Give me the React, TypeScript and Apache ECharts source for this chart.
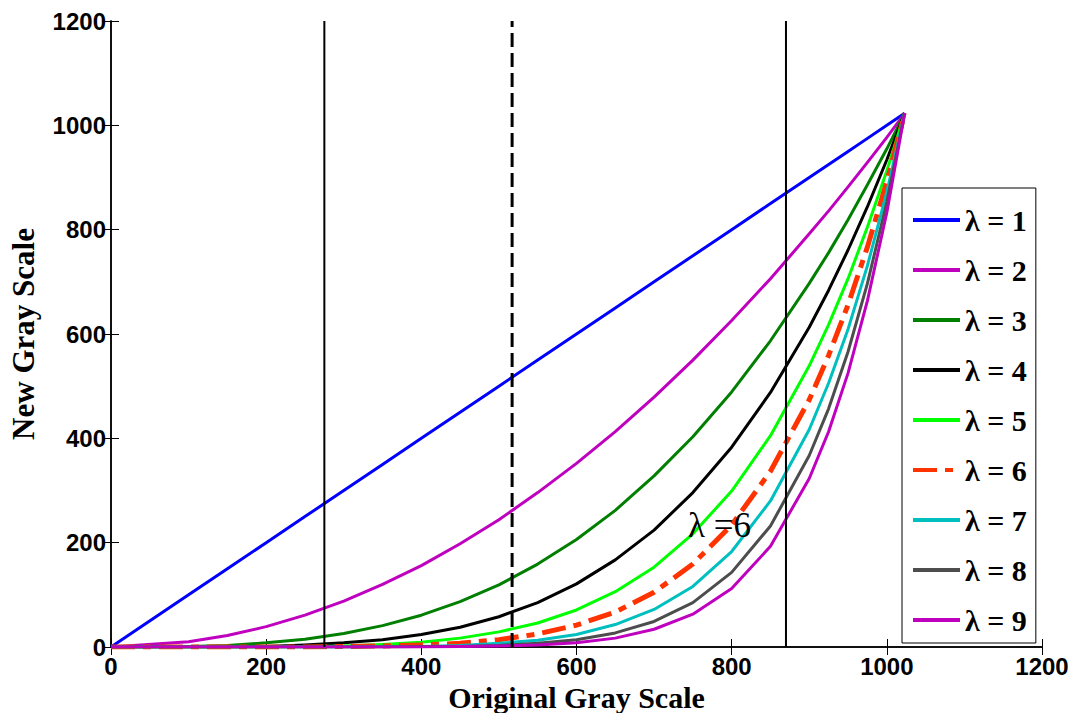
import React, { useEffect, useRef } from "react";
import * as echarts from "echarts";

const xs = [0, 100, 150, 200, 250, 300, 350, 400, 450, 500, 550, 600, 650, 700, 750, 800, 850, 900, 925, 950, 975, 1000, 1023];
const lambda1 = [0, 100, 150, 200, 250, 300, 350, 400, 450, 500, 550, 600, 650, 700, 750, 800, 850, 900, 925, 950, 975, 1000, 1023];
const lambda2 = [0, 10, 22, 39, 61, 88, 120, 156, 198, 244, 296, 352, 413, 479, 550, 626, 706, 792, 836, 882, 929, 977, 1023];
const lambda3 = [0, 1, 3, 8, 15, 26, 41, 61, 87, 119, 159, 206, 262, 328, 403, 489, 587, 697, 756, 819, 886, 955, 1023];
const lambda4 = [0, 0, 0, 1, 4, 8, 14, 24, 38, 58, 85, 121, 167, 224, 296, 383, 488, 613, 684, 761, 844, 934, 1023];
const lambda5 = [0, 0, 0, 0, 1, 2, 5, 9, 17, 29, 46, 71, 106, 153, 217, 299, 405, 539, 618, 706, 805, 913, 1023];
const lambda6 = [0, 0, 0, 0, 0, 1, 2, 4, 7, 14, 25, 42, 67, 105, 159, 234, 337, 474, 559, 656, 767, 892, 1023];
const lambda7 = [0, 0, 0, 0, 0, 0, 1, 1, 3, 7, 13, 24, 43, 72, 116, 183, 280, 417, 506, 609, 731, 872, 1023];
const lambda8 = [0, 0, 0, 0, 0, 0, 0, 1, 1, 3, 7, 14, 27, 49, 85, 143, 232, 367, 457, 566, 697, 853, 1023];
const lambda9 = [0, 0, 0, 0, 0, 0, 0, 0, 1, 2, 4, 8, 17, 34, 63, 112, 193, 323, 413, 525, 664, 833, 1023];

const seriesNames = ["λ = 1", "λ = 2", "λ = 3", "λ = 4", "λ = 5", "λ = 6", "λ = 7", "λ = 8", "λ = 9"];
const seriesValues = [lambda1, lambda2, lambda3, lambda4, lambda5, lambda6, lambda7, lambda8, lambda9];
const seriesColors = ["#0000FF", "#BF00BF", "#007F00", "#000000", "#00FF00", "#FF3300", "#00BFBF", "#4D4D4D", "#BF00BF"];

const verticalLinesX = [275, 517, 870];
const verticalLineDashed = [false, true, false];

const axisTicks = [0, 200, 400, 600, 800, 1000, 1200];
const annotationText = "λ =6";

export default function App() {
  const ref = useRef<HTMLDivElement>(null);
  useEffect(() => {
    document.body.style.margin = "0";
    const chart = echarts.init(ref.current!, null, { renderer: "svg" });
    const tickFont = { fontFamily: "Liberation Sans", fontWeight: "bold" as const, fontSize: 24, color: "#000" };
    const fmt = (v: number) => (axisTicks.includes(v) ? String(v) : "");
    const curves = seriesNames.map((name, i) => ({
      name,
      type: "line",
      data: xs.map((x, j) => [x, seriesValues[i][j]]),
      symbol: "none",
      lineStyle: {
        color: seriesColors[i],
        width: i === 5 ? 5 : 3,
        type: i === 5 ? [24, 8, 8, 8] : "solid",
        join: "round",
      },
      itemStyle: { color: seriesColors[i] },
      z: 2,
    }));
    const vlines = verticalLinesX.map((x, i) => ({
      name: "v" + i,
      type: "line",
      data: [[x, 0], [x, 1200]],
      symbol: "none",
      silent: true,
      lineStyle: { color: "#000", width: verticalLineDashed[i] ? 3 : 2, type: verticalLineDashed[i] ? [14, 6] : "solid" },
      z: 3,
    }));
    const baseAxis = {
      type: "value",
      min: 0,
      max: 1200,
      interval: 200,
      splitLine: { show: false },
      axisLine: { show: true, lineStyle: { color: "#000", width: 1.5 } },
      axisTick: { show: true, inside: true, length: 8, lineStyle: { color: "#000", width: 1 } },
    };
    const titleFont = { fontFamily: "Liberation Serif", fontWeight: "bold", fontSize: 30, lineHeight: 30, color: "#000" };
    chart.setOption({
      animation: false,
      backgroundColor: "#fff",
      grid: { left: 111, right: 32, top: 21, bottom: 66, containLabel: false, outerBoundsMode: "none" },
      xAxis: [
        {
          ...baseAxis,
          position: "bottom",
          axisLabel: { ...tickFont, margin: 7, formatter: fmt },
          name: "Original Gray Scale",
          nameLocation: "middle",
          nameGap: 31,
          nameTextStyle: titleFont,
        },
        { ...baseAxis, position: "top", axisLabel: { show: false } },
      ],
      yAxis: [
        {
          ...baseAxis,
          position: "left",
          axisLabel: { ...tickFont, margin: 5, formatter: fmt },
          name: "New Gray Scale",
          nameLocation: "middle",
          nameGap: 72,
          nameTextStyle: { ...titleFont, fontSize: 31, lineHeight: 31 },
        },
        { ...baseAxis, position: "right", axisLabel: { show: false } },
      ],
      legend: {
        data: seriesNames,
        orient: "vertical",
        left: 902,
        top: 188,
        itemWidth: 47,
        itemHeight: 14,
        itemGap: 20,
        padding: [17, 9, 8, 9],
        borderColor: "#000",
        borderWidth: 1,
        backgroundColor: "#fff",
        itemStyle: { opacity: 0 },
        lineStyle: { width: 4 },
        textStyle: { fontFamily: "Liberation Serif", fontWeight: "bold", fontSize: 30, color: "#000" },
      },
      graphic: [
        {
          type: "text",
          left: 688,
          top: 508,
          style: { text: annotationText, font: "35px 'Liberation Serif'", fill: "#000" },
          z: 10,
        },
      ],
      series: [...curves, ...vlines],
    });
    return () => chart.dispose();
  }, []);
  return <div ref={ref} style={{ width: 1074, height: 713 }} />;
}
